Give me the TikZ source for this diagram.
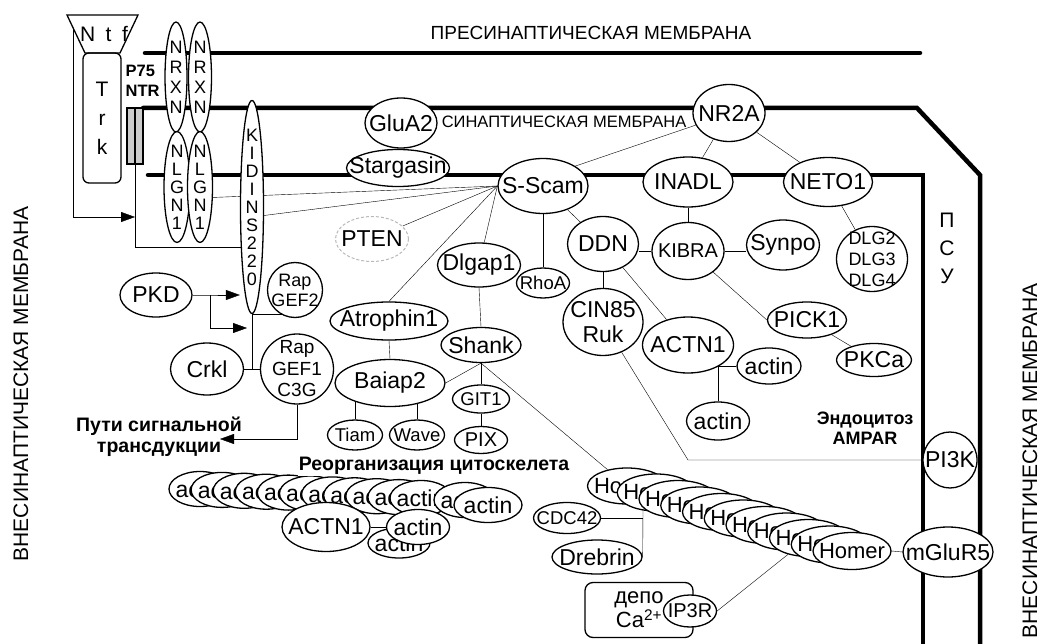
\documentclass[tikz,border=0pt]{standalone}
\usepackage{fontspec}
\setmainfont{Liberation Sans}
\usetikzlibrary{arrows.meta, positioning, backgrounds, shapes.geometric}

\begin{document}
\begin{tikzpicture}[x=1pt, y=-1pt, >={Triangle[length=14pt, width=10pt]},
      line width=1.3pt,
      el/.style 2 args={draw, ellipse, fill=white, inner sep=-60pt,
                 minimum width=#1, minimum height=#2, align=center},
      bigf/.style={font=\fontsize{23}{25}\selectfont},
      midf/.style={font=\fontsize{20}{21}\selectfont},
      smf/.style={font=\fontsize{18.5}{21}\selectfont},
      vert/.style={font=\fontsize{18}{18}\selectfont},
      note/.style={font=\fontsize{19.5}{21}\selectfont\bfseries, align=center, inner sep=1pt},
      memtxt/.style={font=\fontsize{21}{22}\selectfont, inner sep=0pt},
      memb/.style={line width=4.5pt, line cap=round}]

    \useasboundingbox (0,0) rectangle (1048,644);

    % Membrane captions
    \node[memtxt, font=\fontsize{19}{20}\selectfont] (pres) at (591,33) {ПРЕСИНАПТИЧЕСКАЯ МЕМБРАНА};
    \node[inner sep=0pt, font=\fontsize{16.5}{17}\selectfont] (syn) at (564,122) {СИНАПТИЧЕСКАЯ МЕМБРАНА};
    \node[memtxt, rotate=90] (extl) at (21,384) {ВНЕСИНАПТИЧЕСКАЯ МЕМБРАНА};
    \node[memtxt, rotate=90] (extr) at (1030,461) {ВНЕСИНАПТИЧЕСКАЯ МЕМБРАНА};
    \node[align=center, inner sep=0pt, font=\fontsize{21}{28}\selectfont] (psu) at (947,248) {П\\С\\У};

    % Ntf / Trk / P75 on the far left
    \draw[fill=white] (67,15) -- (138,15) -- (120,53) -- (85,53) -- cycle;
    \node[inner sep=0pt, font=\fontsize{21}{22}\selectfont] (ntf) at (104,34) {N\hspace{.5em}t\hspace{.5em}f};
    \node[draw, rounded corners=6pt, minimum width=38, minimum height=130, inner sep=0pt,
          align=center, font=\fontsize{21}{29}\selectfont] (trk) at (102,118) {T\\r\\k};
    \node[draw, fill=gray!40, minimum width=16, minimum height=56, inner sep=0pt] (p75) at (135,136) {};
    \draw (p75.north) -- (p75.south);
    \node[note, font=\fontsize{16.5}{20}\selectfont\bfseries, align=left, anchor=west] (p75t) at (124,81) {P75\\NTR};
    \coordinate (ntfl) at (73,28);
    \coordinate (p75a) at (135,217);
    \coordinate (p75k) at (135,247);

    % adhesion molecules across the cleft
    \node[el={22}{110}, font=\fontsize{18}{20}\selectfont] (nrx1) at (176,77) {N\\R\\X\\N};
    \node[el={23}{110}, font=\fontsize{18}{20}\selectfont] (nrx2) at (200,77) {N\\R\\X\\N};
    \node[el={26}{111}, vert] (nlg1) at (177,187) {N\\L\\G\\N\\1};
    \node[el={25}{111}, vert] (nlg2) at (200,187) {N\\L\\G\\N\\1};
    \node[el={23}{213}, vert] (kid) at (252,207) {K\\I\\D\\I\\N\\S\\2\\2\\0};

    % receptors and scaffold near the synaptic membrane
    \node[el={72}{50}, bigf] (glua2) at (401,123) {GluA2};
    \node[el={103}{37}, bigf] (starg) at (398,168) {Stargasin};
    \node[el={90}{55}, bigf] (sscam) at (543,186) {S-Scam};
    \node[el={72}{57}, bigf] (nr2a) at (729,113) {NR2A};
    \node[el={90}{50}, bigf] (inadl) at (688,182) {INADL};
    \node[el={89}{49}, bigf] (neto) at (828,182) {NETO1};
    \node[el={72}{57}, midf] (kibra) at (688,251) {KIBRA};
    \node[el={73}{50}, bigf] (synpo) at (783,245) {Synpo};
    \node[el={71}{65}, font=\fontsize{18}{21}\selectfont] (dlg) at (872,259) {DLG2\\DLG3\\DLG4};
    \node[el={79}{36}, bigf] (pick) at (807,320) {PICK1};
    \node[el={75}{33}, bigf] (pkca) at (874,360) {PKCa};
    \node[el={71}{55}, bigf] (ddn) at (603,244) {DDN};
    \node[el={80}{67}, bigf] (cin) at (603,322) {CIN85\\Ruk};
    \node[el={91}{56}, bigf] (actnr) at (688,345) {ACTN1};
    \node[el={64}{36}, bigf] (actinr) at (769,366) {actin};
    \node[el={63}{38}, bigf] (actinb) at (718,421) {actin};
    \node[el={53}{30}, smf] (rhoa) at (543,283) {RhoA};
    \node[el={83}{44}, bigf] (dlgap) at (479,265) {Dlgap1};
    \node[el={73}{45}, bigf, draw=gray!55, line width=1pt, dash pattern=on 3pt off 2pt] (pten) at (372,239) {PTEN};
    \node[el={54}{56}, bigf] (pi3k) at (950,460) {PI3K};
    \node[el={90}{50}, bigf] (mglur) at (948,552) {mGluR5};
    \node[note, font=\fontsize{18}{20}\selectfont\bfseries] (endo) at (865,428) {Эндоцитоз\\AMPAR};
    \coordinate (cinj) at (688,460);

    % left signalling block
    \node[el={72}{44}, bigf] (pkd) at (156,295) {PKD};
    \node[el={55}{55}, font=\fontsize{18}{20}\selectfont] (rapg2) at (295,290) {Rap\\GEF2};
    \node[el={73}{52}, bigf] (crkl) at (207,369) {Crkl};
    \node[el={73}{70}, font=\fontsize{19}{21.5}\selectfont] (rapg1) at (297,369) {Rap\\GEF1\\C3G};
    \node[note] (sigtxt) at (159,437) {Пути сигнальной\\трансдукции};
    \coordinate (pkdj) at (210,295);
    \coordinate (pkdt) at (247,328);
    \coordinate (sigt) at (220,439);

    % Shank branch
    \node[el={118}{38}, bigf] (atroph) at (389,321) {Atrophin1};
    \node[el={110}{47}, bigf] (baiap) at (390,383) {Baiap2};
    \node[el={80}{35}, bigf] (shank) at (481,345) {Shank};
    \node[el={57}{28}, smf] (git1) at (481,399) {GIT1};
    \node[el={53}{27}, midf] (pix) at (481,440) {PIX};
    \node[el={55}{30}, smf] (tiam) at (355,435) {Tiam};
    \node[el={55}{30}, smf] (wave) at (417,435) {Wave};

    % actin filament
    \foreach \i in {0,...,10}
      \node[el={62}{35}, bigf] (act\i) at ({200+22.1*\i},{489+0.9*\i}) {actin};
    \node[el={62}{35}, bigf] (act11) at (465,500) {actin};
    \node[el={68}{35}, bigf] (act12) at (488,505) {actin};
    \node[note, fill=white] (reorg) at (434,466) {Реорганизация цитоскелета};
    \node[el={62}{30}, bigf] (actinlo) at (399,543) {actin};
    \node[el={88}{49}, bigf] (actnl) at (326,527) {ACTN1};
    \node[el={63}{35}, bigf] (actinm) at (418,527) {actin};

    % Homer chain
    \node[el={79}{36}, font=\fontsize{22}{24}\selectfont] (hom0) at (627,486) {Homer};
    \foreach \i in {1,...,10}
      \node[el={78}{37}, font=\fontsize{22}{24}\selectfont] (hom\i) at ({634.5+21.75*\i},{486+6.5*\i}) {Homer};
    \node[el={67}{31}, smf] (cdc) at (567,518) {CDC42};
    \node[el={90}{34}, bigf] (drebrin) at (597,557) {Drebrin};
    \node[draw, rounded corners=8pt, minimum width=108, minimum height=55, inner sep=0pt,
          align=center, font=\fontsize{22}{21}\selectfont] (depot) at (639,610) {депо\\Ca\textsuperscript{2+}};
    \node[el={53}{32}, midf] (ip3r) at (690,611) {IP3R};
    \coordinate (drebj) at (643,510);

    \begin{scope}[on background layer]
      % membranes
      \draw[memb] (145,53) -- (920,53);
      \draw[memb] (143,108) -- (917,108) -- (980,175) -- (980,650);
      \draw[memb] (148,175) -- (923,175) -- (923,650);

      % left side
      \draw[->] (ntfl) |- (p75a);
      \draw (p75.south) -- (p75k) -- (kid.center |- p75k);
      \draw[->] (pkd.east) -- (pkdj) -- (kid.west |- pkdj);
      \draw[->] (pkdj) |- (pkdt);
      \draw (kid.south) -- (kid.south -| rapg2.center);
      \draw (kid.south) -- (kid.south |- crkl.east);
      \draw (crkl.east) -- (rapg1.west);
      \draw[->] (rapg1.south) |- (sigt);

      % S-Scam fan
      \draw (nlg2.-39) -- (sscam.west);
      \draw (kid.-35) -- (sscam.west);
      \draw (sscam.west) -- (pten);
      \draw (sscam.west) -- (dlgap);
      \draw (sscam.west) -- (atroph.north);
      \draw (sscam.south) -- (rhoa.north);
      \draw (sscam) -- (ddn);
      \draw (sscam.north east) -- (nr2a.200);

      % NR2A side
      \draw (nr2a) -- (inadl);
      \draw (nr2a) -- (neto);
      \draw (neto) -- (dlg);
      \draw (inadl.south) -- (kibra.north);
      \draw (ddn.east |- kibra) -- (kibra.west);
      \draw (kibra.east) -- (kibra.east -| synpo.west);
      \draw (kibra.-40) -- (pick.west);
      \draw (pick) -- (pkca);
      \draw (ddn.south) -- (cin.north);
      \draw (ddn) -- (actnr);
      \draw (actinb.north) |- (actinr.west);
      \draw (cin) -- (cinj) -- (pi3k.west);

      % Shank branch
      \draw (atroph.south) -- (baiap.north);
      \draw (tiam.north) -- (tiam.north |- baiap);
      \draw (wave.north) -- (wave.north |- baiap);
      \draw (baiap.east) -- (shank.south);
      \draw (dlgap.south) -- (shank.north);
      \draw (shank.south) -- (git1.north);
      \draw (git1.south) -- (pix.north);
      \draw (shank.south) -- (hom0);
      \draw (actnl.east) -- (actinm.west);

      % Homer chain
      \draw (drebrin.east) -- (drebj);
      \draw (cdc.east) -- (cdc.east -| drebj);
      \draw (ip3r.east) -- (hom8);
      \draw (hom10.east) -- (mglur.west);
    \end{scope}

    \end{tikzpicture}
\end{document}
